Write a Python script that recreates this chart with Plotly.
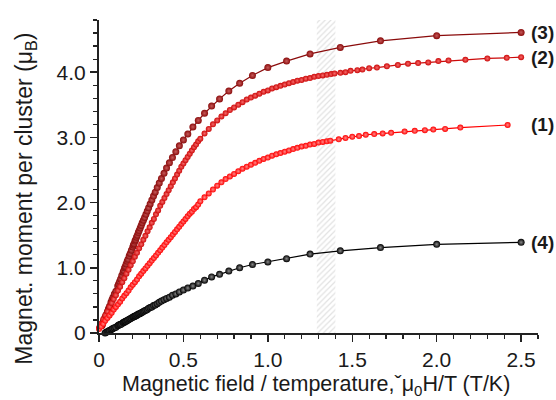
import plotly.graph_objects as go

# ---------------- data ----------------
# series (3): dark red, x = mu0H/T
x3 = [0.0167, 0.02, 0.025, 0.031, 0.036, 0.042, 0.05, 0.056, 0.0625, 0.071, 0.077, 0.083, 0.091, 0.1,
      0.111, 0.116, 0.122, 0.128, 0.135, 0.143, 0.147, 0.152, 0.156, 0.161, 0.167, 0.172, 0.179, 0.185,
      0.192, 0.2, 0.204, 0.208, 0.213, 0.217, 0.222, 0.227, 0.233, 0.238, 0.244, 0.25, 0.256, 0.263,
      0.270, 0.278, 0.286, 0.294, 0.303, 0.313, 0.323, 0.333, 0.345, 0.357, 0.370, 0.385, 0.4, 0.417,
      0.435, 0.455, 0.476, 0.5, 0.526, 0.556, 0.588, 0.625, 0.667, 0.714, 0.769, 0.833, 0.909, 1.0,
      1.111, 1.25, 1.429, 1.667, 2.0, 2.5]
y3 = [0.11, 0.13, 0.17, 0.21, 0.24, 0.28, 0.33, 0.37, 0.41, 0.47, 0.51, 0.55, 0.60, 0.64,
      0.72, 0.75, 0.79, 0.83, 0.88, 0.93, 0.96, 1.00, 1.02, 1.06, 1.10, 1.13, 1.18, 1.22,
      1.27, 1.32, 1.35, 1.37, 1.41, 1.43, 1.47, 1.50, 1.54, 1.57, 1.61, 1.65, 1.69, 1.73,
      1.77, 1.82, 1.87, 1.92, 1.98, 2.04, 2.10, 2.16, 2.23, 2.30, 2.37, 2.45, 2.53, 2.61,
      2.69, 2.78, 2.87, 2.96, 3.05, 3.16, 3.26, 3.37, 3.48, 3.59, 3.71, 3.83, 3.95, 4.07,
      4.17, 4.28, 4.38, 4.48, 4.56, 4.61]

# series (2): red
x2 = [0.0, 0.0125, 0.025, 0.0375, 0.05, 0.0625, 0.075, 0.0875, 0.1, 0.1125, 0.125, 0.1375, 0.15,
      0.1625, 0.175, 0.1875, 0.2, 0.2125, 0.225, 0.2375, 0.25, 0.2625, 0.275, 0.2875, 0.3, 0.3125,
      0.325, 0.3375, 0.35, 0.3625, 0.375, 0.3875, 0.4, 0.4125, 0.425, 0.4375, 0.45, 0.4625, 0.475,
      0.4875, 0.5, 0.5125, 0.525, 0.5375, 0.55, 0.5625, 0.575, 0.5875, 0.6, 0.625, 0.65, 0.675, 0.7,
      0.725, 0.75, 0.775, 0.8, 0.825, 0.85, 0.875, 0.9, 0.925, 0.95, 0.975, 1.0, 1.025, 1.05, 1.075,
      1.1, 1.125, 1.15, 1.175, 1.2, 1.225, 1.25, 1.275, 1.3, 1.325, 1.35, 1.375, 1.395, 1.43, 1.46,
      1.49, 1.53, 1.56, 1.60, 1.646, 1.705, 1.77, 1.83, 1.89, 1.95, 2.01, 2.07, 2.17, 2.30, 2.415, 2.5]
y2 = [0.08, 0.14, 0.21, 0.27, 0.33, 0.40, 0.46, 0.52, 0.58, 0.65, 0.71, 0.78, 0.84,
      0.91, 0.97, 1.04, 1.10, 1.17, 1.23, 1.30, 1.36, 1.43, 1.49, 1.56, 1.62, 1.69,
      1.75, 1.82, 1.88, 1.95, 2.01, 2.07, 2.13, 2.19, 2.25, 2.31, 2.37, 2.43, 2.49,
      2.55, 2.60, 2.65, 2.70, 2.75, 2.80, 2.85, 2.89, 2.94, 2.98, 3.06, 3.13, 3.20, 3.26,
      3.32, 3.37, 3.42, 3.46, 3.50, 3.54, 3.58, 3.61, 3.64, 3.67, 3.70, 3.72, 3.75, 3.77, 3.79,
      3.81, 3.83, 3.85, 3.87, 3.88, 3.90, 3.91, 3.93, 3.94, 3.95, 3.96, 3.97, 3.98, 3.99, 4.00,
      4.02, 4.03, 4.04, 4.06, 4.07, 4.09, 4.11, 4.13, 4.14, 4.15, 4.17, 4.18, 4.19, 4.21, 4.22, 4.23]

# series (1): bright red
x1 = [0.0, 0.0125, 0.025, 0.0375, 0.05, 0.0625, 0.075, 0.0875, 0.1, 0.1125, 0.125, 0.1375, 0.15,
      0.1625, 0.175, 0.1875, 0.2, 0.2125, 0.225, 0.2375, 0.25, 0.2625, 0.275, 0.2875, 0.3, 0.3125,
      0.325, 0.3375, 0.35, 0.3625, 0.375, 0.3875, 0.4, 0.4125, 0.425, 0.4375, 0.45, 0.4625, 0.475,
      0.4875, 0.5, 0.5125, 0.525, 0.5375, 0.55, 0.5625, 0.575, 0.5875, 0.6, 0.625, 0.65, 0.675, 0.7,
      0.725, 0.75, 0.775, 0.8, 0.825, 0.85, 0.875, 0.9, 0.925, 0.95, 0.975, 1.0, 1.025, 1.05, 1.075,
      1.1, 1.125, 1.15, 1.175, 1.2, 1.225, 1.25, 1.275, 1.3, 1.325, 1.35, 1.37, 1.42, 1.46, 1.50,
      1.54, 1.58, 1.63, 1.68, 1.73, 1.81, 1.87, 1.93, 1.98, 2.05, 2.14, 2.42]
y1 = [0.06, 0.10, 0.14, 0.19, 0.23, 0.27, 0.31, 0.36, 0.40, 0.44, 0.48, 0.53, 0.57,
      0.61, 0.65, 0.70, 0.74, 0.78, 0.82, 0.87, 0.91, 0.95, 0.99, 1.03, 1.07, 1.11,
      1.15, 1.19, 1.23, 1.27, 1.31, 1.35, 1.39, 1.43, 1.47, 1.51, 1.55, 1.59, 1.63,
      1.67, 1.71, 1.75, 1.79, 1.83, 1.86, 1.90, 1.93, 1.97, 2.02, 2.08, 2.14, 2.20, 2.26,
      2.31, 2.36, 2.40, 2.44, 2.48, 2.52, 2.55, 2.58, 2.61, 2.64, 2.67, 2.69, 2.72, 2.74, 2.76,
      2.78, 2.80, 2.82, 2.84, 2.86, 2.87, 2.89, 2.90, 2.92, 2.93, 2.94, 2.95, 2.97, 2.99, 3.01,
      3.02, 3.04, 3.05, 3.06, 3.07, 3.09, 3.10, 3.11, 3.12, 3.13, 3.15, 3.19]

# series (4): black
x4 = [0.036, 0.042, 0.05, 0.056, 0.0625, 0.071, 0.077, 0.083, 0.091, 0.1,
      0.111, 0.116, 0.122, 0.128, 0.135, 0.143, 0.147, 0.152, 0.156, 0.161, 0.167, 0.172, 0.179, 0.185,
      0.192, 0.2, 0.204, 0.208, 0.213, 0.217, 0.222, 0.227, 0.233, 0.238, 0.244, 0.25, 0.256, 0.263,
      0.270, 0.278, 0.286, 0.294, 0.303, 0.313, 0.323, 0.333, 0.345, 0.357, 0.370, 0.385, 0.4, 0.417,
      0.435, 0.455, 0.476, 0.5, 0.526, 0.556, 0.588, 0.625, 0.667, 0.714, 0.769, 0.833, 0.909, 1.0,
      1.111, 1.25, 1.429, 1.667, 2.0, 2.5]
y4 = [0.00, 0.01, 0.02, 0.03, 0.04, 0.05, 0.06, 0.07, 0.08, 0.09,
      0.11, 0.12, 0.13, 0.13, 0.14, 0.16, 0.16, 0.17, 0.18, 0.18, 0.19, 0.20, 0.21, 0.22,
      0.23, 0.24, 0.25, 0.25, 0.26, 0.26, 0.27, 0.28, 0.29, 0.29, 0.30, 0.31, 0.32, 0.33,
      0.34, 0.35, 0.36, 0.38, 0.39, 0.40, 0.42, 0.43, 0.45, 0.47, 0.49, 0.51, 0.53, 0.55,
      0.58, 0.60, 0.63, 0.66, 0.69, 0.72, 0.76, 0.81, 0.86, 0.90, 0.95, 1.00, 1.05, 1.09,
      1.14, 1.21, 1.26, 1.31, 1.36, 1.39]

# hatched region
band_x = [1.29, 1.40]
band_top = 4.8

x_ticks = [0, 0.5, 1.0, 1.5, 2.0, 2.5]
x_ticktext = ["0", "0.5", "1.0", "1.5", "2.0", "2.5"]
y_ticks = [0, 1, 2, 3, 4]
y_ticktext = ["0", "1.0", "2.0", "3.0", "4.0"]

labels = ["(3)", "(2)", "(1)", "(4)"]
x_title = "Magnetic field / temperature,ˇμ<sub>0</sub>H/T (T/K)"
y_title = "Magnet. moment per cluster (μ<sub>B</sub>)"

# ---------------- figure ----------------
FONT = "Liberation Sans, Arial, sans-serif"
TXT = "#1a1a1a"
fig = go.Figure()

fig.add_trace(go.Scatter(
    x=[band_x[0], band_x[1], band_x[1], band_x[0], band_x[0]],
    y=[0, 0, band_top, band_top, 0],
    fill="toself", mode="lines", line=dict(width=0, color="rgba(0,0,0,0)"),
    fillcolor="rgba(255,255,255,0)",
    fillpattern=dict(shape="/", fgcolor="#c4c4c4", bgcolor="rgba(255,255,255,0)", size=4, solidity=0.3),
    hoverinfo="skip", showlegend=False))

series = [
    (x4, y4, "#000000", "#8a8a8a", 7),
    (x3, y3, "#8a0b0b", "#c65a5a", 7),
    (x2, y2, "#cc0a0a", "#f76a6a", 6),
    (x1, y1, "#ff0000", "#ff8a8a", 6),
]
for xs, ys, col, hi, sz in series:
    fig.add_trace(go.Scatter(
        x=xs, y=ys, mode="lines+markers",
        line=dict(color=col, width=1.2),
        marker=dict(color=col, size=sz, line=dict(width=0),
                    gradient=dict(type="radial", color=hi)),
        showlegend=False, cliponaxis=False, hoverinfo="skip"))

label_y = [y3[-1], y2[-1], y1[-1], y4[-1]]
for txt, ly in zip(labels, label_y):
    fig.add_annotation(x=2.545, y=ly, xref="x", yref="y", text="<b>%s</b>" % txt,
                       showarrow=False, xanchor="left", yanchor="middle",
                       font=dict(family=FONT, size=19, color=TXT))

# axis titles as annotations for exact placement
fig.add_annotation(x=0.494, y=-0.2134, xref="paper", yref="paper", text=x_title,
                   showarrow=False, xanchor="center", yanchor="bottom", borderpad=0,
                   font=dict(family=FONT, size=21.5, color=TXT))
fig.add_annotation(x=-0.168, y=0.43, xref="paper", yref="paper", text=y_title,
                   textangle=-90, showarrow=False, xanchor="center", yanchor="middle",
                   font=dict(family=FONT, size=23, color=TXT))

axis_common = dict(showline=True, linecolor="#222", linewidth=2, ticks="outside",
                   ticklen=7, tickwidth=1.5, tickcolor="#222", showgrid=False, zeroline=False,
                   automargin=False,
                   tickfont=dict(family=FONT, size=21, color=TXT))

fig.update_xaxes(range=[0, 2.6], tickvals=x_ticks, ticktext=x_ticktext,
                 minor=dict(ticks="outside", ticklen=4, tickwidth=1.2, tickcolor="#222", dtick=0.1, showgrid=False),
                 **axis_common)
fig.update_yaxes(range=[0, 4.8], tickvals=y_ticks, ticktext=y_ticktext,
                 minor=dict(ticks="outside", ticklen=4, tickwidth=1.2, tickcolor="#222", dtick=0.2, showgrid=False),
                 **axis_common)

fig.update_layout(width=556, height=400, margin=dict(l=99, r=18, t=20, b=67),
                  plot_bgcolor="white", paper_bgcolor="white", showlegend=False)

fig.write_html("out.html", config={"displayModeBar": False, "staticPlot": True},
               post_script="document.body.style.margin='0';document.body.style.padding='0';")
